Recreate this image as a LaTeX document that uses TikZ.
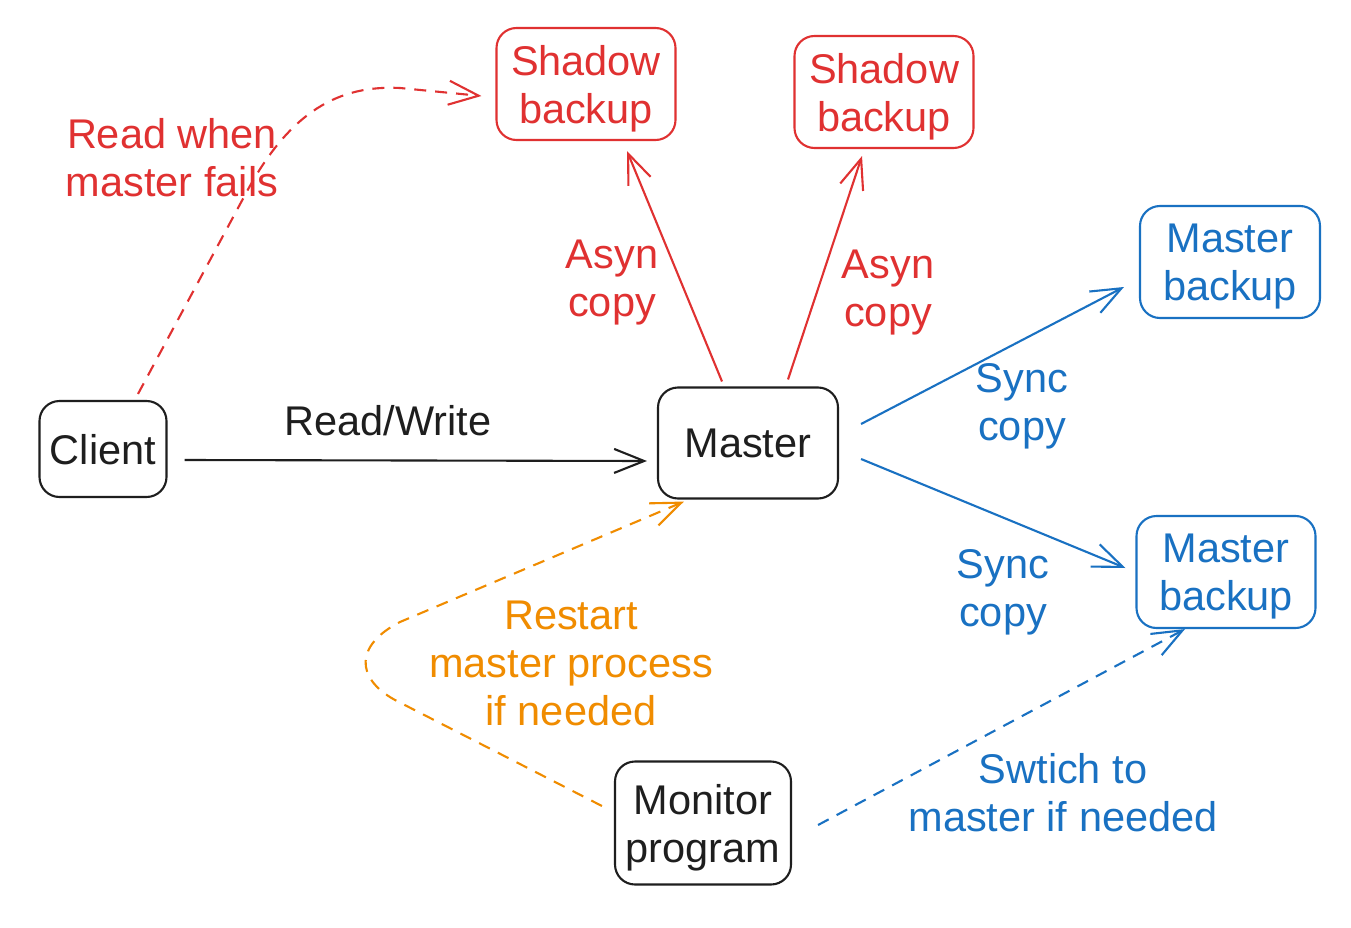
\documentclass[tikz,border=0pt]{standalone}
\usepackage{fontspec}
\setmainfont{Liberation Sans}
\usetikzlibrary{arrows.meta}
\definecolor{exred}{HTML}{E03131}
\definecolor{exblue}{HTML}{1971C2}
\definecolor{exorange}{HTML}{F08C00}
\definecolor{exblack}{HTML}{1E1E1E}
\begin{document}
\begin{tikzpicture}[x=1pt,y=-1pt,
  bigfont/.style={font=\fontsize{41.5}{48}\selectfont},
  box/.style={draw, rounded corners=20pt, line width=2.1pt, align=center, inner sep=0pt, text depth=0pt, bigfont},
  lbl/.style={align=center, inner sep=0pt, text depth=0pt, bigfont},
  conn/.style={line width=2.1pt, -{Straight Barb[length=30pt,width=24pt,line width=2.1pt]}},
  dconn/.style={conn, dash pattern=on 12pt off 9pt}]
\useasboundingbox[fill=white] (0,0) rectangle (1351,928);

% nodes
\node[box, exblack, text=exblack, minimum width=127pt, minimum height=96pt] (client) at (103,449) {Client};
\node[box, exblack, text=exblack, minimum width=180pt, minimum height=111pt] (master) at (748,443) {Master};
\node[box, exred, text=exred, minimum width=179pt, minimum height=112pt] (sb1) at (586,84) {Shadow\\backup};
\node[box, exred, text=exred, minimum width=179pt, minimum height=112pt] (sb2) at (884,92) {Shadow\\backup};
\node[box, exblue, text=exblue, minimum width=180pt, minimum height=112pt] (mb1) at (1230,262) {Master\\backup};
\node[box, exblue, text=exblue, minimum width=179pt, minimum height=112pt] (mb2) at (1226,572) {Master\\backup};
\node[box, exblack, text=exblack, minimum width=176pt, minimum height=123pt] (monitor) at (703,823) {Monitor\\program};

% labels
\node[lbl, text=exblack] (lrw) at (388,420) {Read/Write};
\node[lbl, text=exred] (lread) at (172,157) {Read when\\master fails};
\node[lbl, text=exred] (las1) at (612,278) {Asyn\\copy};
\node[lbl, text=exred] (las2) at (888,288) {Asyn\\copy};
\node[lbl, text=exblue] (lsy1) at (1022,402) {Sync\\copy};
\node[lbl, text=exblue] (lsy2) at (1003,588) {Sync\\copy};
\node[lbl, text=exorange] (lrestart) at (571,663) {Restart\\master process\\if needed};
\node[lbl, text=exblue] (lswitch) at (1063,792) {Swtich to\\master if needed};

% solid connectors
\draw[conn, exblack] ([xshift=17pt,yshift=-11pt]client.east) -- ([xshift=-10pt,yshift=-18pt]master.west);
\draw[conn, exred] ([xshift=-26pt,yshift=5pt]master.north) -- ([xshift=41pt,yshift=-10pt]sb1.south);
\draw[conn, exred] ([xshift=40pt,yshift=7pt]master.north) -- ([xshift=-22pt,yshift=-7pt]sb2.south);
\draw[conn, exblue] ([xshift=22pt,yshift=19pt]master.east) -- ([xshift=-15pt,yshift=-25pt]mb1.west);
\draw[conn, exblue] ([xshift=22pt,yshift=-16pt]master.east) -- ([xshift=-10pt,yshift=4pt]mb2.west);

% dashed connectors
\draw[dconn, exred] ([xshift=35pt,yshift=6pt]client.north) -- (245,195) .. controls (290,110) and (340,85) .. (400,88) -- ([xshift=-14pt,yshift=-12pt]sb1.west);
\draw[dconn, exorange] ([xshift=-12pt,yshift=17pt]monitor.west) -- (395,700) .. controls (355,678) and (355,645) .. (400,622) -- ([xshift=27pt,yshift=-2pt]master.south west);
\draw[dconn, exblue] ([xshift=26pt,yshift=-2pt]monitor.east) -- ([xshift=-41pt]mb2.south);
\end{tikzpicture}
\end{document}
